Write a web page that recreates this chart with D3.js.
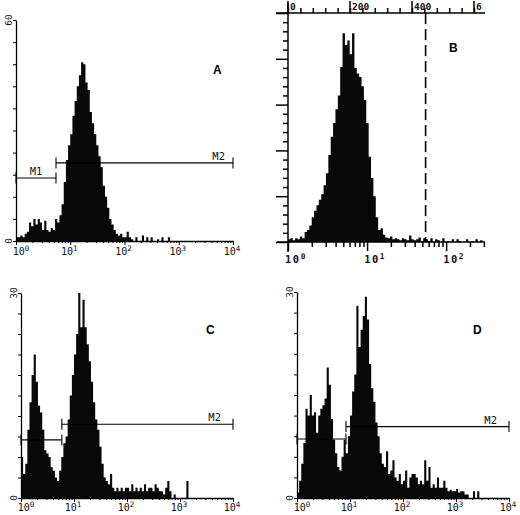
<!DOCTYPE html>
<html>
<head>
<meta charset="utf-8">
<script src="https://cdn.jsdelivr.net/npm/d3@7"></script>
<style>
  body { margin: 0; background: #fff; }
  svg { display: block; }
  .lbl { font-family: "DejaVu Sans Mono", monospace; fill: #111; }
  .letter { font-family: "Liberation Sans", Arial, sans-serif; font-weight: bold; font-size: 12px; fill: #000; }
</style>
</head>
<body>
<svg id="chart" width="520" height="515"></svg>
<script>
// ===== DATA =====

// channel width in log10 units
const logBinWidth = 0.04;   // panels A, C, D: 100 channels over 10^0..10^4
const logBinWidthB = 0.03;  // panel B

const countsA = [
  1, 1, 1.5, 1, 2, 2.5, 5, 4, 6, 4.5,
  6, 5, 3, 5.5, 3, 2.5, 3.5, 3, 6, 5,
  7, 10, 16, 22, 26, 29, 34, 38, 42, 45,
  48.5, 48, 43, 41, 35, 32, 29, 26, 23, 20,
  15, 12, 9, 6, 4.5, 3, 2, 1.5, 2, 1,
  1, 2.5, 1, 0.5, 0, 1, 0, 0, 1.5, 0,
  1, 0, 1, 0, 0, 0.5, 0, 1, 0, 0,
  1, 0, 0, 0, 0, 0, 0, 0, 0, 0,
  0, 0, 0, 0, 0, 0, 0, 0, 0, 0,
  0, 0, 0, 0, 0, 0, 0, 0, 0, 0
];

const countsB = [
  3, 4, 2, 4, 3, 6, 4, 11, 13, 18,
  27, 34, 40, 46, 52, 62, 75, 95, 115, 130,
  145, 160, 191, 228, 215, 220, 205, 228, 190, 184,
  180, 170, 155, 130, 93, 70, 50, 27, 13, 15,
  8, 5, 4, 6, 3, 4, 3, 2, 4, 3,
  2, 7, 3, 2, 3, 5, 1, 4, 3, 1,
  4, 0, 3, 2, 0, 4, 0, 1, 0, 3,
  0, 3, 1, 0, 0, 3, 0, 1, 0, 3,
  0, 2
];

const countsC = [
  6, 3.5, 5, 10, 14, 18, 21, 17, 13.5, 12.5,
  10, 7, 6.5, 6, 4.5, 4, 3, 2.5, 4, 6,
  8, 9, 11.5, 15, 18, 21, 24, 30, 25, 29,
  25, 22.5, 20, 17, 14, 11.5, 10, 7.5, 5, 3,
  2.5, 2, 3.5, 1.5, 1, 1.5, 1, 1.5, 1, 1.5,
  1.5, 1, 2, 1, 1.5, 1, 1.5, 1, 2, 1,
  1.5, 1.5, 1, 2, 1.5, 1, 1, 0.5, 1.5, 2.5,
  1, 0, 0.5, 0, 0, 0, 0, 0, 2.5, 0,
  0, 0, 0, 0, 0, 0, 0, 0, 0, 0,
  0, 0, 0, 0, 0, 0, 0, 0, 0, 0
];

const countsD = [
  0.8, 2.5, 5, 8, 13, 12, 15, 12, 12.5, 9.5,
  12, 13, 13.5, 14.5, 19, 16.5, 11.5, 8.5, 6.5, 4.5,
  4, 6, 8.5, 6.5, 9, 12, 15.5, 18, 28, 22,
  24.5, 26.5, 29.3, 26, 19.5, 16, 14, 11, 9, 6.5,
  5, 4.5, 6.8, 3.5, 4, 5.5, 3, 2.5, 3.5, 2,
  2.5, 4, 1.5, 3, 3.5, 3.5, 3, 2, 2.5, 2,
  5.5, 2.5, 4.5, 1.5, 2, 1.5, 3, 1.5, 1.5, 2.5,
  1.5, 1, 1.2, 1, 1, 1.3, 0.8, 1, 1, 0.5,
  0.5, 0, 0, 1, 0, 1, 0, 0, 0, 0,
  0, 0, 0, 0, 0, 0, 0, 0, 0, 0
];

// marker gates: fluorescence range and the count level the bar is drawn at
const gatesA = [
  { name: "M1", from: 1, to: 5.46, level: 17.1 },
  { name: "M2", from: 5.46, to: 10000, level: 21.2 }
];
const gatesC = [
  { name: "", from: 1, to: 5.9, level: 8.5 },
  { name: "M2", from: 5.9, to: 10000, level: 10.8 }
];
const gatesD = [
  { name: "", from: 1, to: 8.4, level: 8.6 },
  { name: "M2", from: 8.4, to: 10000, level: 10.4 }
];

const decadesACD = [0, 1, 2, 3, 4];
const decadesB = [0, 1, 2];
const topTicksB = [0, 200, 400, 600];
const topLabelsB = ["0", "200", "400", "6"];
const cutoffB = 55;   // dashed line position on the log axis

// ===== DRAWING =====

const svg = d3.select('#chart');

function decadeLabel(g, x, y, exp, size, bold) {
  const t = g.append('text')
    .attr('class', 'lbl')
    .attr('x', x)
    .attr('y', y)
    .attr('text-anchor', 'middle')
    .attr('font-size', size)
    .attr('font-weight', bold ? 'bold' : 'normal')
    .attr('letter-spacing', bold ? 1.5 : 0);
  t.append('tspan').text('10');
  t.append('tspan').attr('dy', -4).attr('font-size', size * 0.75).text(exp);
}

function isDecade(v) {
  const l = Math.log10(v);
  return Math.abs(l - Math.round(l)) < 1e-9;
}

function histPath(g, counts, bw, x, y) {
  const pts = counts.map((c, i) => ({ v: Math.pow(10, i * bw), c: c }));
  pts.push({ v: Math.pow(10, counts.length * bw), c: 0 });
  const area = d3.area()
    .x(d => x(d.v))
    .y0(y(0))
    .y1(d => y(d.c))
    .curve(d3.curveStepAfter);
  g.append('path').datum(pts).attr('d', area).attr('fill', '#080808');
}

function drawLogPanel(p) {
  const g = svg.append('g');
  const x = d3.scaleLog().domain([1, 1e4]).range([p.left, p.right]);
  const y = d3.scaleLinear().domain([0, p.yMax]).range([p.bottom, p.top]);

  histPath(g, p.counts, logBinWidth, x, y);

  // bottom axis, small log ticks
  g.append('g')
    .attr('transform', `translate(0,${p.bottom})`)
    .call(d3.axisBottom(x).tickValues(x.ticks()).tickSize(2).tickSizeOuter(0).tickFormat(''))
    .call(ax => ax.selectAll('.tick line').attr('y2', d => isDecade(d) ? 4 : 2));

  // left axis
  g.append('g')
    .attr('transform', `translate(${p.left},0)`)
    .call(d3.axisLeft(y).tickValues(d3.range(0, p.yMax + 0.01, p.yStep)).tickSize(3).tickSizeOuter(0).tickFormat(''));

  g.selectAll('.domain').attr('stroke', '#000').attr('stroke-width', 1.3);
  g.selectAll('.tick line').attr('stroke', '#000').attr('stroke-width', 1);

  // rotated y-end labels
  [[p.yMax, p.top], [0, p.bottom]].forEach(([v, py]) => {
    g.append('text')
      .attr('class', 'lbl')
      .attr('font-size', 9.5)
      .attr('text-anchor', 'middle')
      .attr('transform', `translate(${p.left - 4},${py}) rotate(-90)`)
      .text(v);
  });

  decadesACD.forEach((e, i) => {
    let px = x(Math.pow(10, e)) - 1;
    if (i === 0) px = p.left + 5;
    decadeLabel(g, px, p.labelY, e, 10, false);
  });

  // gates
  p.gates.forEach(gt => {
    const gy = y(gt.level), x0 = x(gt.from), x1 = x(gt.to);
    g.append('line').attr('x1', x0).attr('x2', x1).attr('y1', gy).attr('y2', gy)
      .attr('stroke', '#000').attr('stroke-width', 1.1);
    [x0, x1].forEach(ex => {
      g.append('line').attr('x1', ex).attr('x2', ex).attr('y1', gy - 5.5).attr('y2', gy + 5.5)
        .attr('stroke', '#000').attr('stroke-width', 1.1);
    });
    if (gt.name === 'M1') {
      g.append('text').attr('class', 'lbl').attr('font-size', 10.5)
        .attr('x', (x0 + x1) / 2).attr('y', gy - 3).attr('text-anchor', 'middle').text(gt.name);
    } else if (gt.name) {
      g.append('text').attr('class', 'lbl').attr('font-size', 10.5)
        .attr('x', x1 - p.m2Offset).attr('y', gy - 3).attr('text-anchor', 'end').text(gt.name);
    }
  });

  g.append('text').attr('class', 'letter').attr('x', p.letterX).attr('y', p.letterY).text(p.name);
}

function drawPanelB() {
  const g = svg.append('g');
  const left = 288, right = 485, top = 13, bottom = 242;
  const x = d3.scaleLog().domain([1, 310]).range([left, right]);
  const y = d3.scaleLinear().domain([0, 250]).range([bottom, top]);
  const xt = d3.scaleLinear().domain([0, 600]).range([left, 474]);

  histPath(g, countsB, logBinWidthB, x, y);

  // left axis: minor every 10, major every 50 (ticks outward)
  g.append('g')
    .attr('transform', `translate(${left},0)`)
    .call(d3.axisLeft(y).tickValues(d3.range(0, 251, 10)).tickSize(5).tickSizeOuter(0).tickFormat(''))
    .call(ax => ax.select('.domain').remove())
    .call(ax => ax.selectAll('.tick line').attr('x2', d => d % 50 === 0 ? -12 : -5));
  g.append('line').attr('x1', left).attr('x2', left).attr('y1', 3).attr('y2', 252);

  // bottom log axis, ticks hanging down
  g.append('g')
    .attr('transform', `translate(0,${bottom})`)
    .call(d3.axisBottom(x).tickValues(x.ticks()).tickSize(5).tickSizeOuter(0).tickFormat(''))
    .call(ax => ax.select('.domain').remove())
    .call(ax => ax.selectAll('.tick line').attr('y2', d => isDecade(d) ? 9 : 5));
  g.append('line').attr('x1', 277).attr('x2', right).attr('y1', bottom).attr('y2', bottom);

  // top linear axis
  g.append('g')
    .attr('transform', `translate(0,${top})`)
    .call(d3.axisTop(xt).tickValues(d3.range(0, 601, 40)).tickSize(5).tickSizeOuter(0).tickFormat(''))
    .call(ax => ax.select('.domain').remove());
  g.append('line').attr('x1', 276).attr('x2', right).attr('y1', top).attr('y2', top);
  topTicksB.forEach((v, i) => {
    g.append('line').attr('x1', xt(v)).attr('x2', xt(v)).attr('y1', 1).attr('y2', top);
    g.append('text').attr('class', 'lbl').attr('font-size', 9.5).attr('font-weight', 'bold')
      .attr('x', xt(v) + 2).attr('y', 10).text(topLabelsB[i]);
  });

  g.selectAll('line').attr('stroke', '#000');
  g.selectAll('.tick line').attr('stroke-width', 1.5);
  g.selectAll(':scope > line').attr('stroke-width', 1.5);

  // cutoff
  g.append('line')
    .attr('x1', x(cutoffB)).attr('x2', x(cutoffB)).attr('y1', top).attr('y2', bottom)
    .attr('stroke', '#000').attr('stroke-width', 1.6).attr('stroke-dasharray', '11,5');

  decadesB.forEach(e => {
    decadeLabel(g, x(Math.pow(10, e)) + 8, 263, e, 10.5, true);
  });

  g.append('text').attr('class', 'letter').attr('x', 449).attr('y', 52).text('B');
}

drawLogPanel({
  name: 'A', counts: countsA, gates: gatesA, yMax: 60, yStep: 6,
  left: 16, right: 233, top: 20, bottom: 241, labelY: 255,
  m2Offset: 8, letterX: 213, letterY: 74
});
drawPanelB();
drawLogPanel({
  name: 'C', counts: countsC, gates: gatesC, yMax: 30, yStep: 3,
  left: 21, right: 233, top: 293, bottom: 498, labelY: 511,
  m2Offset: 12, letterX: 206, letterY: 334
});
drawLogPanel({
  name: 'D', counts: countsD, gates: gatesD, yMax: 30, yStep: 3,
  left: 297, right: 509, top: 292, bottom: 498, labelY: 511,
  m2Offset: 12, letterX: 473, letterY: 334
});
</script>
</body>
</html>
